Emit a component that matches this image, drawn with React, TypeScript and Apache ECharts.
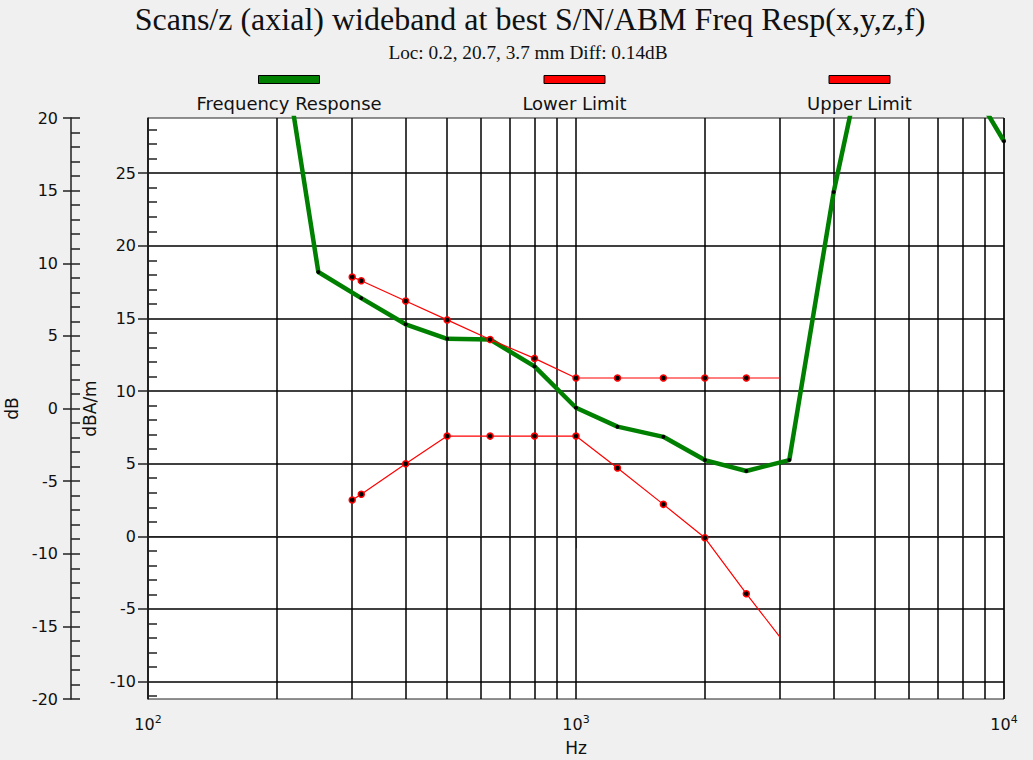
import React, { useEffect, useRef } from 'react';
import * as echarts from 'echarts';

const titleText = 'Scans/z (axial) wideband at best S/N/ABM Freq Resp(x,y,z,f)';
const subtitleText = 'Loc: 0.2, 20.7, 3.7 mm Diff: 0.14dB';
const seriesNames = ['Frequency Response', 'Lower Limit', 'Upper Limit'];
const seriesColors = ['#008000', '#ff0000', '#ff0000'];

// Frequency response (Hz, dBA/m)
const respFreqs = [200, 250, 315, 400, 500, 630, 800, 1000, 1250, 1600, 2000, 2500, 3150, 4000, 5000, 6300, 8000, 10000];
const respValues = [36.4, 18.2, 16.4, 14.6, 13.6, 13.55, 11.7, 8.85, 7.55, 6.85, 5.25, 4.5, 5.25, 23.7, 37.0, 37.0, 32.0, 27.2];

// Limits (Hz, dBA/m)
const limitFreqs = [300, 315, 400, 500, 630, 800, 1000, 1250, 1600, 2000, 2500, 3000];
const lowerValues = [2.5, 2.9, 5.0, 6.9, 6.9, 6.9, 6.9, 4.7, 2.2, -0.1, -3.95, -6.95];
const upperValues = [17.85, 17.6, 16.2, 14.9, 13.55, 12.25, 10.9, 10.9, 10.9, 10.9, 10.9, 10.9];

// Axes
const xMin = 100;
const xMax = 10000;
const xTickExponents = ['2', '3', '4'];
const gridFreqs = [200, 300, 400, 500, 600, 700, 800, 900, 2000, 3000, 4000, 5000, 6000, 7000, 8000, 9000];
const innerMin = -11.2;
const innerMax = 28.8;
const innerMajor = [-10, -5, 0, 5, 10, 15, 20, 25];
const innerMinor = [-11, -9, -8, -7, -6, -4, -3, -2, -1, 1, 2, 3, 4, 6, 7, 8, 9, 11, 12, 13, 14, 16, 17, 18, 19, 21, 22, 23, 24, 26, 27, 28];
const outerMin = -20;
const outerMax = 20;
const outerInterval = 5;

const SANS = '"DejaVu Sans", sans-serif';
const SERIF = '"Liberation Serif", "Times New Roman", serif';
const TXT = '#111';

const legendCenters = [289, 574.5, 859.5];

export default function App() {
  const ref = useRef<HTMLDivElement | null>(null);

  useEffect(() => {
    if (!ref.current) return;
    const chart = echarts.init(ref.current, null, { renderer: 'svg' });

    const mk = (xs: number[], ys: number[], noLastSymbol: boolean) =>
      xs.map((x, i) => {
        const item: any = { value: [x, ys[i]] };
        if (noLastSymbol && i === xs.length - 1) item.symbol = 'none';
        return item;
      });

    const legendGraphics: any[] = [];
    seriesNames.forEach((name, i) => {
      const cx = legendCenters[i];
      legendGraphics.push({
        type: 'rect',
        shape: { x: cx - 30.5, y: 75.5, width: 61, height: 8 },
        style: { fill: seriesColors[i], stroke: '#000', lineWidth: 1 },
      });
      legendGraphics.push({
        type: 'text',
        x: cx,
        y: 103,
        style: {
          text: name,
          fill: TXT,
          fontSize: 18,
          fontFamily: SANS,
          align: 'center',
          verticalAlign: 'middle',
        },
      });
    });

    const option: any = {
      animation: false,
      backgroundColor: '#f0f0f0',
      grid: {
        left: 148,
        right: 29,
        top: 118,
        bottom: 61,
        show: true,
        backgroundColor: '#ffffff',
        borderColor: '#222',
        borderWidth: 1,
        containLabel: false,
        outerBoundsMode: 'none',
      },
      graphic: [
        {
          type: 'text',
          x: 530,
          y: 19,
          style: {
            text: titleText,
            fill: TXT,
            fontSize: 32,
            fontFamily: SERIF,
            align: 'center',
            verticalAlign: 'middle',
          },
        },
        {
          type: 'text',
          x: 528,
          y: 52,
          style: {
            text: subtitleText,
            fill: TXT,
            fontSize: 19.3,
            fontFamily: SERIF,
            align: 'center',
            verticalAlign: 'middle',
          },
        },
        ...legendGraphics,
      ],
      xAxis: [
        {
          type: 'log',
          logBase: 10,
          min: xMin,
          max: xMax,
          position: 'bottom',
          name: 'Hz',
          nameLocation: 'middle',
          nameGap: 40,
          nameTextStyle: { fontSize: 17, fontFamily: SANS, color: TXT },
          axisLine: { show: true, lineStyle: { color: '#222', width: 1 } },
          axisTick: { show: true, length: 12, lineStyle: { color: '#222' } },
          axisLabel: {
            margin: 15,
            fontSize: 16,
            fontFamily: SANS,
            color: TXT,
            formatter: (_v: number, idx: number) =>
              xTickExponents[idx] != null ? '{b|10}{s|' + xTickExponents[idx] + '}' : '',
            rich: {
              b: { fontSize: 16, fontFamily: SANS, color: TXT, lineHeight: 18, verticalAlign: 'bottom' },
              s: { fontSize: 11, fontFamily: SANS, color: TXT, lineHeight: 18, verticalAlign: 'top' },
            },
          },
          splitLine: { show: true, lineStyle: { color: '#000', width: 1.5 } },
        },
        {
          type: 'value',
          min: Math.log10(xMin),
          max: Math.log10(xMax),
          position: 'bottom',
          axisLine: { show: false },
          axisLabel: { show: false },
          axisTick: { show: false, customValues: gridFreqs.map((f) => Math.log10(f)) },
          splitLine: { show: true, lineStyle: { color: '#000', width: 1.5 } },
        },
      ],
      yAxis: [
        {
          type: 'value',
          min: innerMin,
          max: innerMax,
          position: 'left',
          name: 'dBA/m',
          nameLocation: 'middle',
          nameRotate: 90,
          nameGap: 45,
          nameTextStyle: { fontSize: 17, fontFamily: SANS, color: TXT },
          axisLine: { show: true, lineStyle: { color: '#222', width: 1.5 } },
          axisTick: { show: true, length: 10, customValues: innerMajor, lineStyle: { color: '#222', width: 1.5 } },
          axisLabel: { customValues: innerMajor, margin: 12, fontSize: 16, fontFamily: SANS, color: TXT },
          splitLine: { show: true, lineStyle: { color: '#000', width: 1.5 } },
        },
        {
          type: 'value',
          min: innerMin,
          max: innerMax,
          position: 'left',
          axisLine: { show: false },
          axisLabel: { show: false },
          axisTick: { show: true, inside: true, length: 9, customValues: innerMinor, lineStyle: { color: '#222', width: 1.5 } },
          splitLine: { show: false },
        },
        {
          type: 'value',
          min: outerMin,
          max: outerMax,
          interval: outerInterval,
          position: 'left',
          offset: 77,
          name: 'dB',
          nameLocation: 'middle',
          nameRotate: 90,
          nameGap: 43,
          nameTextStyle: { fontSize: 17, fontFamily: SANS, color: TXT },
          axisLine: { show: true, lineStyle: { color: '#222', width: 1.5 } },
          axisTick: { show: true, length: 8, lineStyle: { color: '#222', width: 1.5 } },
          axisLabel: { margin: 13, fontSize: 16, fontFamily: SANS, color: TXT },
          splitLine: { show: false },
        },
        {
          type: 'value',
          min: outerMin,
          max: outerMax,
          interval: outerInterval,
          position: 'left',
          offset: 77,
          axisLine: { show: false },
          axisLabel: { show: false },
          axisTick: { show: true, inside: true, length: 9, lineStyle: { color: '#222', width: 1.5 } },
          minorTick: { show: true, splitNumber: 5, length: 9, lineStyle: { color: '#222', width: 1.5 } },
          splitLine: { show: false },
        },
      ],
      series: [
        {
          name: seriesNames[0],
          type: 'line',
          xAxisIndex: 0,
          yAxisIndex: 0,
          data: mk(respFreqs, respValues, false),
          symbol: 'circle',
          symbolSize: 4,
          showSymbol: true,
          itemStyle: { color: '#000' },
          lineStyle: { color: seriesColors[0], width: 4.5 },
          clip: true,
          z: 3,
        },
        {
          name: seriesNames[1],
          type: 'line',
          xAxisIndex: 0,
          yAxisIndex: 0,
          data: mk(limitFreqs, lowerValues, true),
          symbol: 'circle',
          symbolSize: 6,
          itemStyle: { color: '#000', borderColor: seriesColors[1], borderWidth: 1.5 },
          lineStyle: { color: seriesColors[1], width: 1.2 },
          clip: true,
          z: 4,
        },
        {
          name: seriesNames[2],
          type: 'line',
          xAxisIndex: 0,
          yAxisIndex: 0,
          data: mk(limitFreqs, upperValues, true),
          symbol: 'circle',
          symbolSize: 6,
          itemStyle: { color: '#000', borderColor: seriesColors[2], borderWidth: 1.5 },
          lineStyle: { color: seriesColors[2], width: 1.2 },
          clip: true,
          z: 4,
        },
      ],
    };

    chart.setOption(option);
    return () => {
      chart.dispose();
    };
  }, []);

  return (
    <div
      ref={ref}
      style={{ position: 'absolute', left: 0, top: 0, width: 1033, height: 760 }}
    />
  );
}
